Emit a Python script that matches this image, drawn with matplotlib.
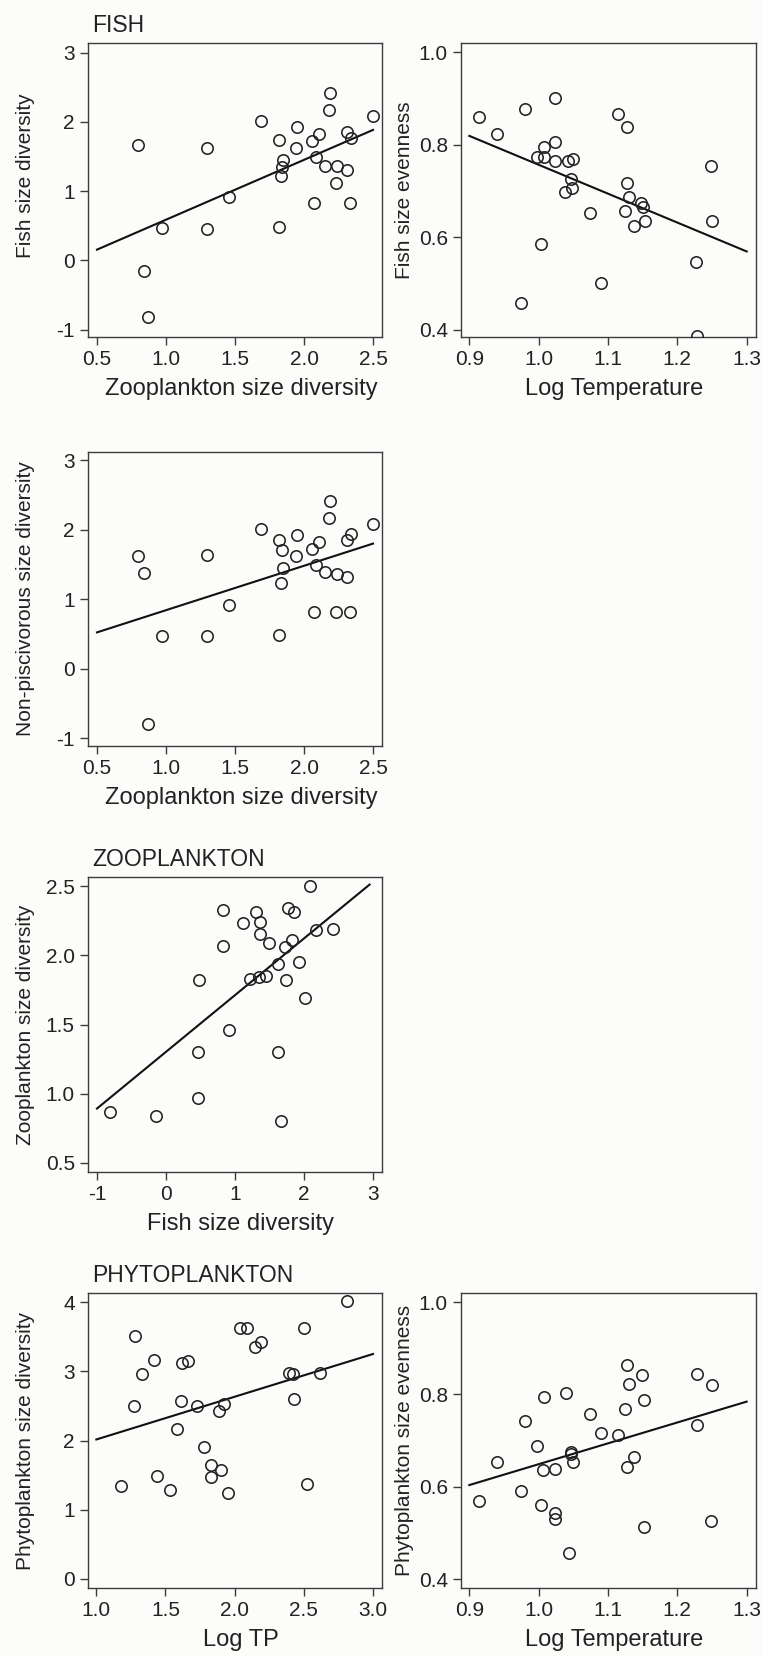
import numpy as np
import matplotlib
matplotlib.use('Agg')
import matplotlib.pyplot as plt

plt.rcParams['font.family'] = ['Liberation Sans', 'DejaVu Sans']
plt.rcParams['axes.unicode_minus'] = False

# fish / zooplankton size diversity (same lakes, used in two panels)
zoo_div = [0.80, 1.30, 1.69, 1.82, 1.95, 1.94, 1.85, 1.84, 1.83, 2.19, 2.18, 2.50, 2.06, 2.11, 2.09,
           2.15, 2.24, 2.31, 2.31, 2.34, 2.23, 2.07, 2.33, 1.46, 0.97, 1.30, 1.82, 0.84, 0.87]
fish_div = [1.67, 1.63, 2.01, 1.74, 1.93, 1.62, 1.45, 1.35, 1.22, 2.42, 2.17, 2.09, 1.72, 1.83, 1.49,
            1.36, 1.36, 1.31, 1.85, 1.77, 1.12, 0.83, 0.83, 0.92, 0.47, 0.46, 0.48, -0.15, -0.81]
nonpisc_div = [1.62, 1.63, 2.01, 1.85, 1.93, 1.62, 1.45, 1.71, 1.23, 2.41, 2.17, 2.09, 1.72, 1.83, 1.49,
               1.39, 1.36, 1.32, 1.85, 1.94, 0.82, 0.82, 0.81, 0.92, 0.47, 0.47, 0.49, 1.38, -0.80]

# fish evenness vs temperature
temp_fish = [0.914, 0.940, 0.981, 1.023, 1.114, 1.127, 0.997, 1.007, 1.008, 1.023, 1.023, 1.043, 1.049,
             1.046, 1.048, 1.038, 1.074, 1.127, 1.130, 1.124, 1.148, 1.151, 1.138, 1.153, 1.248, 1.250,
             1.004, 1.227, 1.090, 0.975, 1.228]
fish_even = [0.861, 0.823, 0.878, 0.901, 0.866, 0.839, 0.774, 0.795, 0.774, 0.806, 0.764, 0.765, 0.770,
             0.727, 0.707, 0.698, 0.653, 0.718, 0.687, 0.656, 0.675, 0.666, 0.625, 0.636, 0.754, 0.635,
             0.585, 0.547, 0.501, 0.458, 0.387]

# phytoplankton diversity vs log TP
log_tp = [2.81, 2.04, 2.09, 2.50, 1.28, 2.15, 2.19, 1.42, 1.62, 1.66, 1.33, 2.39, 2.42, 2.62, 1.27,
          1.61, 1.73, 1.92, 1.89, 2.43, 1.58, 1.78, 1.83, 1.90, 1.83, 1.95, 1.18, 1.44, 1.53, 2.52]
phyto_div = [4.01, 3.62, 3.62, 3.62, 3.51, 3.35, 3.42, 3.16, 3.12, 3.15, 2.96, 2.97, 2.96, 2.97, 2.50,
             2.57, 2.50, 2.53, 2.42, 2.60, 2.17, 1.91, 1.64, 1.57, 1.47, 1.24, 1.35, 1.49, 1.28, 1.37]

# phytoplankton evenness vs temperature
temp_phyto = [1.127, 1.149, 1.130, 1.228, 1.250, 1.039, 1.007, 1.152, 1.124, 1.074, 0.981, 1.090, 1.114,
              1.228, 0.998, 1.047, 1.047, 1.049, 0.940, 1.138, 1.127, 1.006, 1.023, 0.975, 0.914, 1.004,
              1.023, 1.023, 1.152, 1.248, 1.044]
phyto_even = [0.863, 0.841, 0.822, 0.845, 0.821, 0.803, 0.794, 0.788, 0.768, 0.758, 0.743, 0.717, 0.712,
              0.734, 0.688, 0.676, 0.671, 0.654, 0.654, 0.665, 0.643, 0.636, 0.638, 0.590, 0.570, 0.560,
              0.544, 0.531, 0.513, 0.526, 0.456]

W, H = 763, 1657
BG = '#fcfcfa'
FRAME = '#3c3c3c'
TXT = '#222222'


def rect(left, top, right, bottom):
    return [left / W, 1 - bottom / H, (right - left) / W, (bottom - top) / H]


def panel(fig, box, x, y, xlim, ylim, xticks, xlabels, yticks, ylabels, xlab, ylab, fit_range,
          ylab_pos):
    ax = fig.add_axes(rect(*box))
    ax.set_facecolor(BG)
    ax.plot(x, y, 'o', mfc='none', mec=TXT, ms=8.2, mew=1.15, zorder=3)
    k, b = np.polyfit(x, y, 1)
    xs = np.array(fit_range)
    ax.plot(xs, k * xs + b, color='#111111', lw=1.5, zorder=2)
    ax.set_xlim(*xlim)
    ax.set_ylim(*ylim)
    ax.set_xticks(xticks)
    ax.set_xticklabels(xlabels)
    ax.set_yticks(yticks)
    ax.set_yticklabels(ylabels)
    ax.tick_params(direction='out', length=6, width=1, color=FRAME, labelsize=15,
                   labelcolor=TXT, pad=3.5)
    for s in ax.spines.values():
        s.set_color(FRAME)
        s.set_linewidth(1.0)
    ax.set_xlabel(xlab, fontsize=17, color=TXT)
    ax.set_ylabel(ylab, fontsize=15, color=TXT)
    ax.xaxis.set_label_coords(0.52, -0.14)
    ax.yaxis.set_label_coords(*ylab_pos)
    return ax


fig = plt.figure(figsize=(W / 100, H / 100), dpi=100)
fig.patch.set_facecolor(BG)

zoo_ticks = [0.5, 1.0, 1.5, 2.0, 2.5]
zoo_labels = ['0.5', '1.0', '1.5', '2.0', '2.5']
temp_ticks = [0.9, 1.0, 1.1, 1.2, 1.3]
temp_labels = ['0.9', '1.0', '1.1', '1.2', '1.3']

panel(fig, (88, 43, 382, 337), zoo_div, fish_div, (0.435, 2.565), (-1.106, 3.14),
      zoo_ticks, zoo_labels, [-1, 0, 1, 2, 3], ['-1', '0', '1', '2', '3'],
      'Zooplankton size diversity', 'Fish size diversity', [0.5, 2.5], (-0.18, 0.55))

panel(fig, (461, 43, 756, 337), temp_fish, fish_even, (0.888, 1.3135), (0.3845, 1.020),
      temp_ticks, temp_labels, [0.4, 0.6, 0.8, 1.0], ['0.4', '0.6', '0.8', '1.0'],
      'Log Temperature', 'Fish size evenness', [0.9, 1.3], (-0.16, 0.5))

panel(fig, (88, 452, 382, 746), zoo_div, nonpisc_div, (0.435, 2.565), (-1.115, 3.12),
      zoo_ticks, zoo_labels, [-1, 0, 1, 2, 3], ['-1', '0', '1', '2', '3'],
      'Zooplankton size diversity', 'Non-piscivorous size diversity', [0.5, 2.5], (-0.18, 0.5))

panel(fig, (88, 877, 382, 1172), fish_div, zoo_div, (-1.13, 3.13), (0.435, 2.565),
      [-1, 0, 1, 2, 3], ['-1', '0', '1', '2', '3'], [0.5, 1.0, 1.5, 2.0, 2.5],
      ['0.5', '1.0', '1.5', '2.0', '2.5'],
      'Fish size diversity', 'Zooplankton size diversity', [-1, 2.95], (-0.18, 0.5))

panel(fig, (88, 1293, 382, 1588), log_tp, phyto_div, (0.94, 3.065), (-0.13, 4.13),
      [1.0, 1.5, 2.0, 2.5, 3.0], ['1.0', '1.5', '2.0', '2.5', '3.0'], [0, 1, 2, 3, 4],
      ['0', '1', '2', '3', '4'],
      'Log TP', 'Phytoplankton size diversity', [1.0, 3.0], (-0.18, 0.5))

panel(fig, (461, 1293, 756, 1588), temp_phyto, phyto_even, (0.888, 1.3135), (0.381, 1.0195),
      temp_ticks, temp_labels, [0.4, 0.6, 0.8, 1.0], ['0.4', '0.6', '0.8', '1.0'],
      'Log Temperature', 'Phytoplankton size evenness', [0.9, 1.3], (-0.16, 0.5))

# group headings
for label, base in [('FISH', 32), ('ZOOPLANKTON', 866), ('PHYTOPLANKTON', 1282)]:
    fig.text(92 / W, 1 - base / H, label, fontsize=16.5, color=TXT, ha='left', va='baseline')

fig.savefig('out.png', dpi=100, facecolor=BG)
